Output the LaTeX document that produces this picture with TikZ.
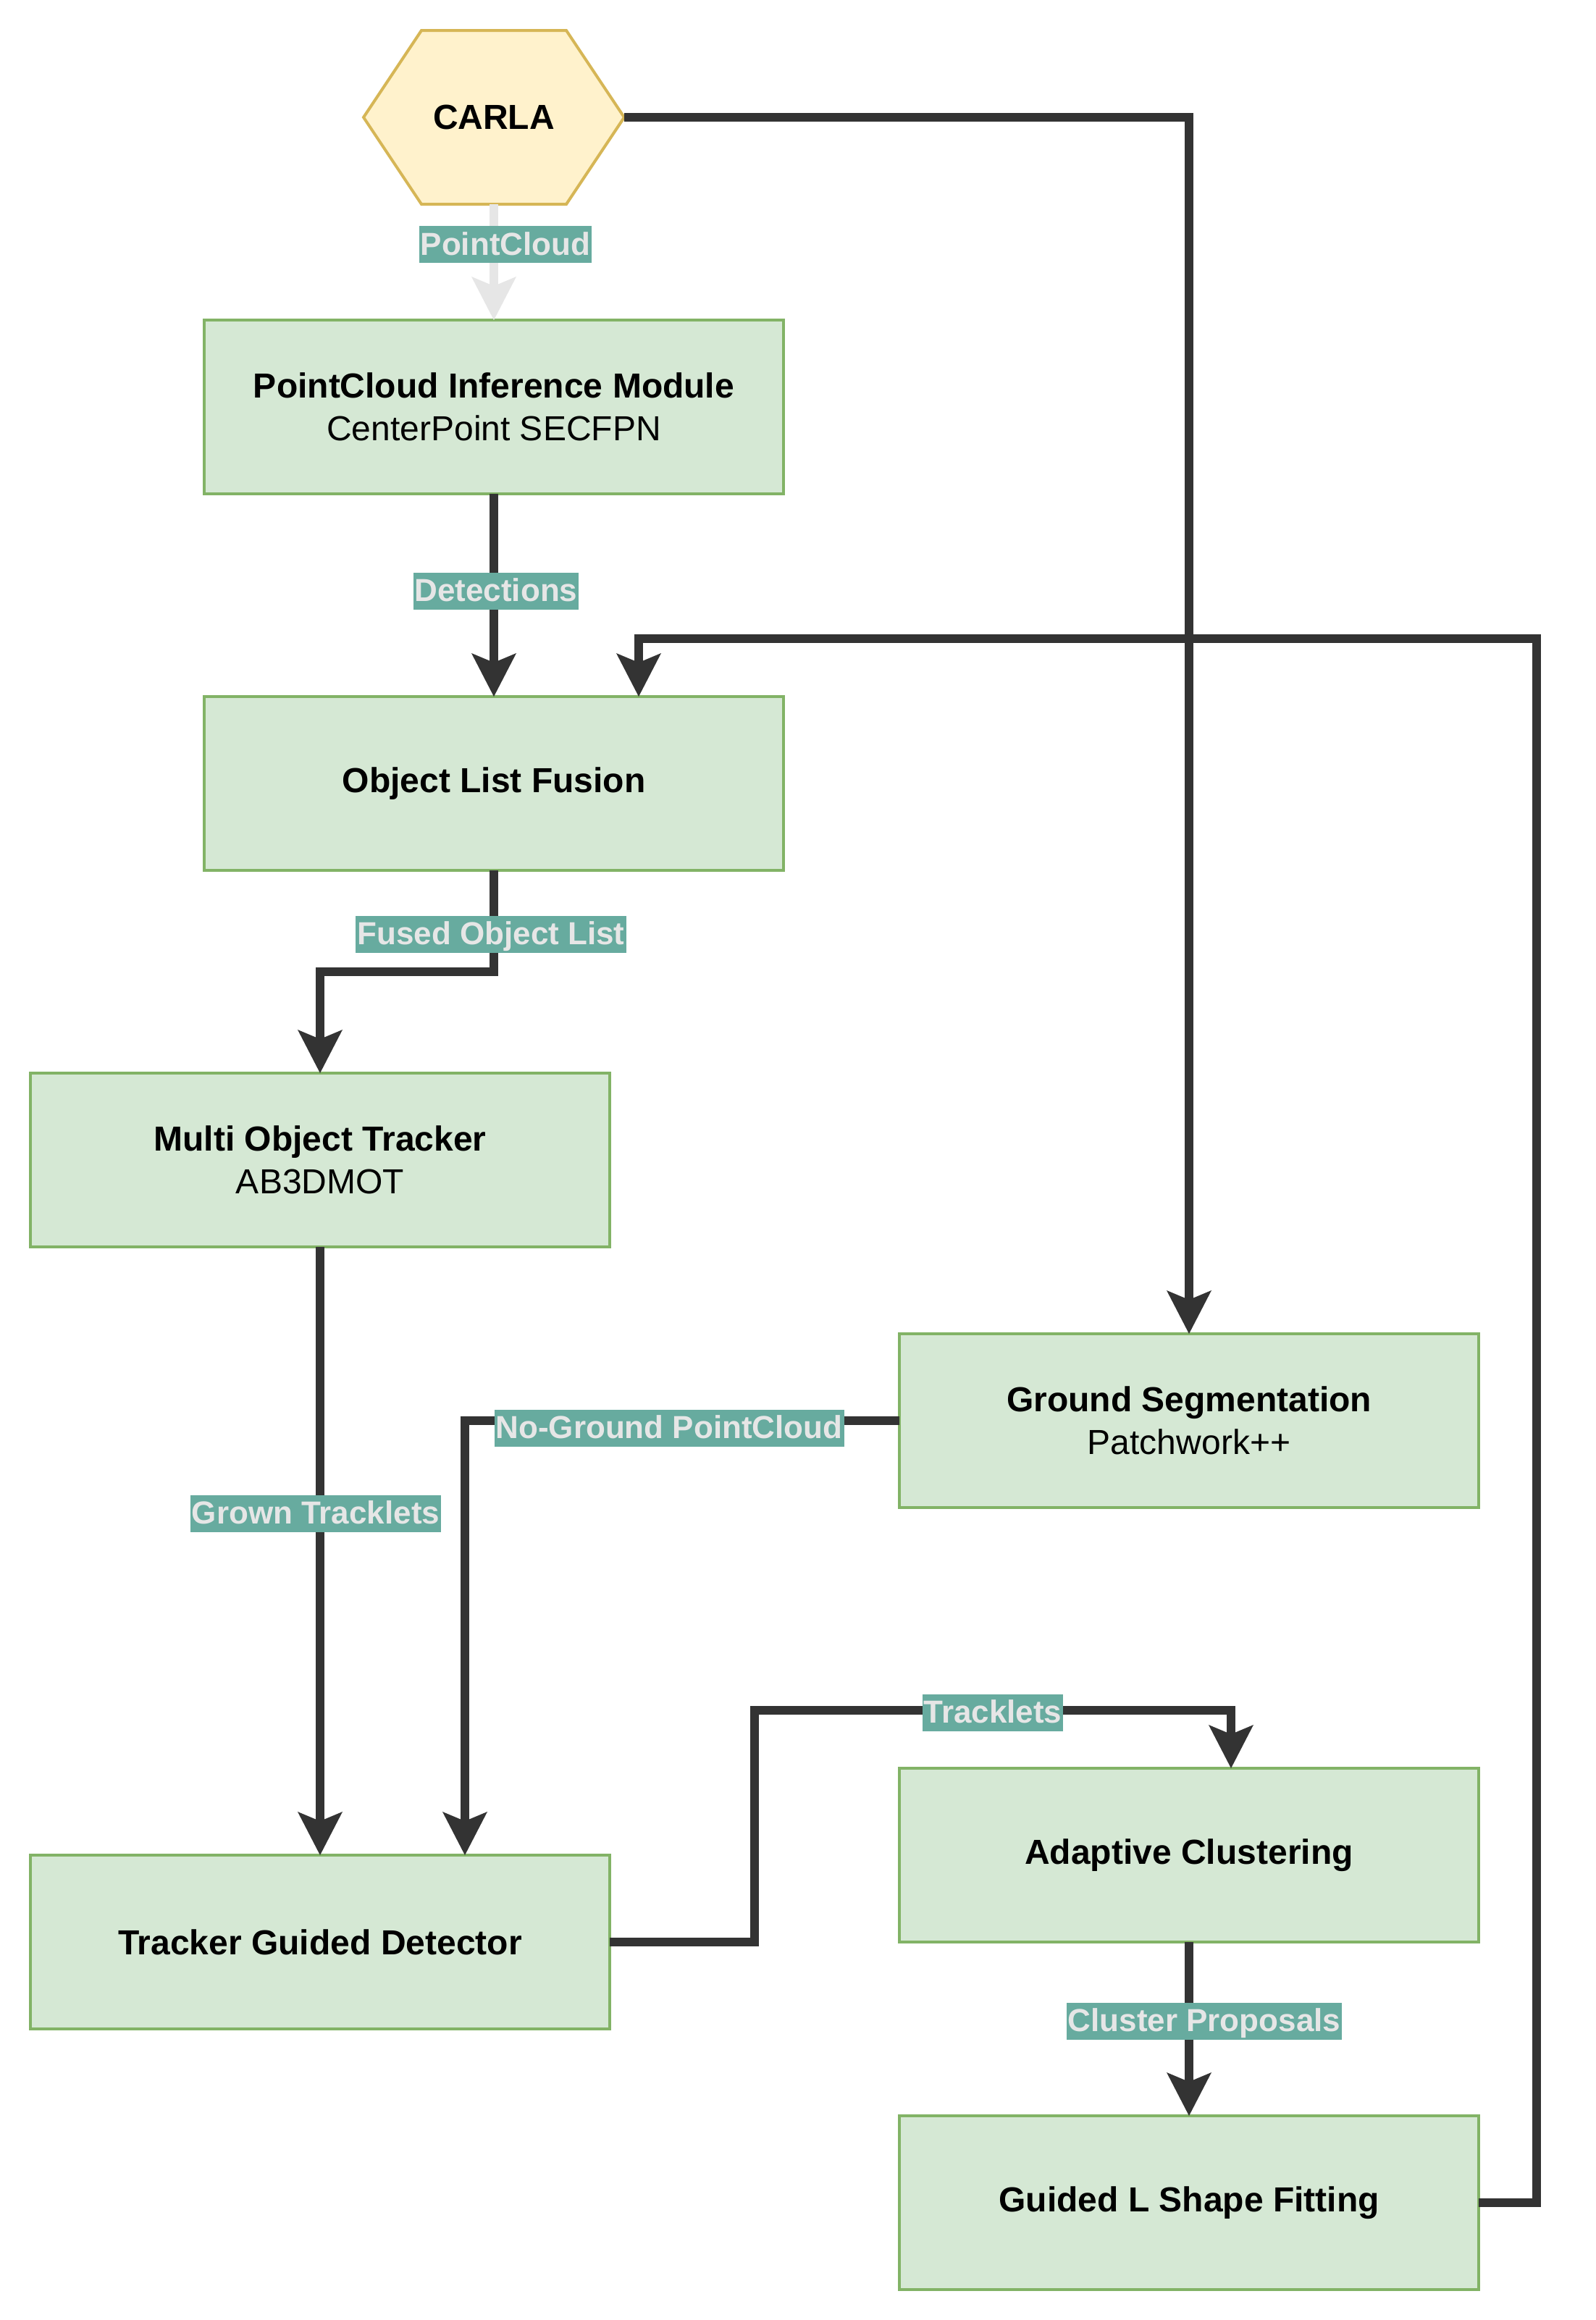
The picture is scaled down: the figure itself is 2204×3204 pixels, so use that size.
\documentclass[tikz,border=0pt]{standalone}
\usepackage{fontspec}
\setmainfont{Liberation Sans}
\usetikzlibrary{arrows.meta}
\definecolor{boxfill}{HTML}{D5E8D4}
\definecolor{boxline}{HTML}{82B366}
\definecolor{hexfill}{HTML}{FFF2CC}
\definecolor{hexline}{HTML}{D6B656}
\definecolor{flow}{HTML}{333333}
\definecolor{lightflow}{HTML}{E6E6E6}
\definecolor{tagbg}{HTML}{67AB9F}
\definecolor{tagtext}{HTML}{E6E6E6}
\begin{document}
\begin{tikzpicture}[x=0.25pt,y=-0.25pt,
  box/.style={draw=boxline,fill=boxfill,line width=1pt,minimum width=200pt,minimum height=60pt,
    inner sep=0pt,outer sep=0pt,align=center,font=\fontsize{12}{14.6}\selectfont},
  tag/.style={fill=tagbg,text=tagtext,font=\fontsize{11}{13}\selectfont\bfseries,
    inner xsep=0.5pt,inner ysep=0pt,text height=10pt,text depth=2.75pt},
  flowline/.style={draw=flow,line width=3pt,line join=miter},
  lightline/.style={draw=lightflow,line width=3pt,line join=miter},
  tip/.style={-{Stealth[length=15pt,width=15.5pt,inset=3.25pt,line width=0pt]}},
]
\useasboundingbox (0,0) rectangle (2204,3204);
\fill[white] (0,0) rectangle (2204,3204);

% CARLA hexagon
\draw[draw=hexline,fill=hexfill,line width=1pt,line join=miter]
  (502,162) -- (582,42) -- (782,42) -- (862,162) -- (782,282) -- (582,282) -- cycle;
\node[minimum width=90pt,minimum height=60pt,inner sep=0pt,outer sep=0pt,
  font=\fontsize{12}{14}\selectfont\bfseries] (carla) at (682,162) {CARLA};

% boxes
\node[box] (pim) at (682,562) {\textbf{PointCloud Inference Module}\\CenterPoint SECFPN};
\node[box] (olf) at (682,1082) {\textbf{Object List Fusion}};
\node[box] (mot) at (442,1602) {\textbf{Multi Object Tracker}\\AB3DMOT};
\node[box] (gs) at (1642,1962) {\textbf{Ground Segmentation}\\Patchwork++};
\node[box] (tgd) at (442,2682) {\textbf{Tracker Guided Detector}};
\node[box] (ac) at (1642,2562) {\textbf{Adaptive Clustering}};
\node[box] (gl) at (1642,3042) {\textbf{Guided L Shape Fitting}};

% junction coordinates
\coordinate (j1) at (442,1342);
\coordinate (j2) at (642,1962);
\coordinate (j3) at (1042,2362);
\coordinate (j4) at (1700,2362);
\coordinate (j5) at (2122,882);
\coordinate (j6) at (882,882);

% connectors
\draw[lightline,tip] (carla.south) -- (pim.north);
\draw[flowline,tip] (pim.south) -- (olf.north);
\draw[flowline,tip] (olf.south) |- (j1) -- (mot.north);
\draw[flowline,tip] (mot.south) -- (tgd.north);
\draw[flowline,tip] (carla.east) -| (gs.north);
\draw[flowline,tip] (gs.west) -- (j2) -- (j2 |- tgd.north);
\draw[flowline,tip] (tgd.east) -| (j3) -- (j4) -- (j4 |- ac.north);
\draw[flowline,tip] (ac.south) -- (gl.north);
\draw[flowline,tip] (gl.east) -| (j5) -- (j6) -- (j6 |- olf.north);

% labels
\node[tag] (lpc) at (698,337.5) {PointCloud};
\node[tag] (ldet) at (685,816) {Detections};
\node[tag] (lfol) at (678,1290) {Fused Object List};
\node[tag] (lgt) at (436,2090) {Grown Tracklets};
\node[tag] (lng) at (924,1972) {No-Ground PointCloud};
\node[tag] (ltr) at (1371,2365) {Tracklets};
\node[tag] (lcp) at (1663,2791) {Cluster Proposals};
\end{tikzpicture}
\end{document}
